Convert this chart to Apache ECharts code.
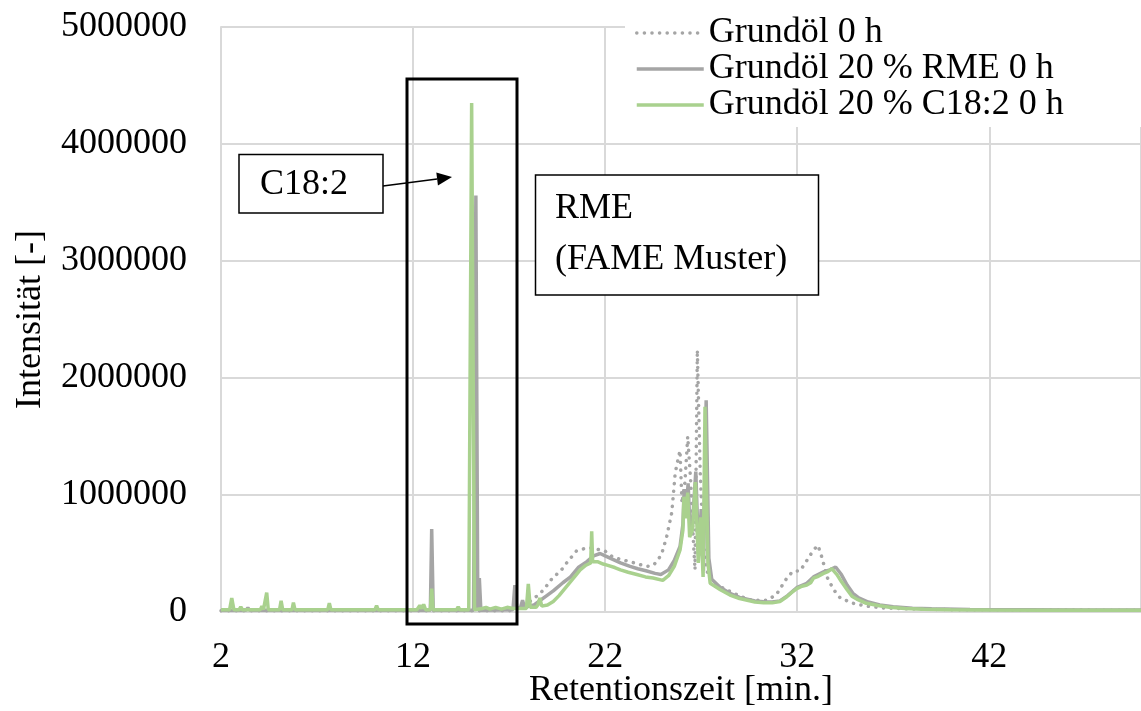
<!DOCTYPE html>
<html>
<head>
<meta charset="utf-8">
<script src="https://cdn.jsdelivr.net/npm/echarts@6/dist/echarts.min.js"></script>
<style>
html,body{margin:0;padding:0;background:#fff;}
#c{width:1141px;height:711px;}
</style>
</head>
<body>
<div id="c"></div>
<script>
// Retention time [min] / intensity [-]
const seriesNames = ['Grundöl 0 h', 'Grundöl 20 % RME 0 h', 'Grundöl 20 % C18:2 0 h'];

const grundoel0h = [
  [2.0,10000],[17.0,10000],[17.5,30000],[18.0,80000],[18.4,130000],[18.8,190000],[19.3,300000],
  [19.66,345000],[20.0,420000],[20.2,460000],[20.5,520000],[20.7,530000],[21.05,550000],[21.4,545000],
  [21.74,530000],[22.0,520000],[22.4,470000],[22.8,450000],[23.3,430000],[23.7,410000],[24.17,390000],
  [24.45,395000],[24.7,430000],[24.95,500000],[25.2,640000],[25.47,850000],[25.65,1190000],[25.75,1270000],
  [25.9,1380000],[26.0,930000],[26.15,1100000],[26.3,1500000],[26.45,1130000],[26.6,590000],[26.68,360000],
  [26.8,2240000],[26.95,1200000],[27.1,600000],[27.3,350000],[27.6,250000],[28.2,200000],[28.7,160000],
  [29.4,110000],[29.7,100000],[30.4,100000],[30.9,145000],[31.5,300000],[31.8,350000],[32.15,350000],
  [32.5,440000],[32.85,530000],[33.08,570000],[33.3,460000],[33.55,300000],[33.9,190000],[34.24,120000],
  [34.9,75000],[35.6,50000],[36.5,35000],[38,25000],[40,20000],[45,17000],[50,15000]
];

const grundoelRME = [
  [2.0,15000],[3.3,15000],[3.4,35000],[3.5,15000],[7.7,15000],[7.8,30000],[7.9,15000],[9.2,15000],
  [9.3,25000],[9.4,15000],[12.9,15000],[12.97,710000],[13.05,15000],[15.15,15000],[15.27,3560000],
  [15.37,15000],[15.45,290000],[15.53,15000],[17.2,20000],[17.3,230000],[17.4,30000],[17.6,40000],
  [17.7,100000],[17.8,40000],[18.3,60000],[18.8,120000],[19.3,180000],[19.8,250000],[20.2,300000],
  [20.6,380000],[21.05,430000],[21.4,480000],[21.74,500000],[22.0,480000],[22.4,450000],[22.8,420000],
  [23.3,390000],[23.7,370000],[24.17,350000],[24.6,330000],[24.9,320000],[25.3,360000],[25.6,440000],
  [25.9,560000],[26.05,750000],[26.12,1050000],[26.22,850000],[26.32,1100000],[26.42,700000],[26.55,760000],
  [26.72,1200000],[26.87,480000],[27.0,880000],[27.12,350000],[27.26,1810000],[27.4,460000],[27.55,280000],
  [28.0,210000],[28.5,160000],[29.0,125000],[29.4,110000],[29.8,95000],[30.25,88000],[30.7,85000],
  [31.1,95000],[31.5,140000],[32.0,210000],[32.5,245000],[32.85,300000],[33.4,345000],[33.7,360000],
  [34.0,385000],[34.3,320000],[34.6,230000],[34.9,160000],[35.2,120000],[35.7,85000],[36.3,60000],
  [37,45000],[38,33000],[39,27000],[41,22000],[44,20000],[47,18000],[50,18000]
];

const grundoelC182 = [
  [2.0,20000],[2.45,20000],[2.56,120000],[2.67,20000],[2.95,20000],[3.03,45000],[3.11,20000],
  [4.05,20000],[4.13,50000],[4.21,20000],[4.3,20000],[4.38,165000],[4.46,20000],[5.05,20000],
  [5.13,95000],[5.21,20000],[5.7,20000],[5.77,80000],[5.85,20000],[7.56,20000],[7.64,75000],
  [7.72,20000],[10.02,20000],[10.1,55000],[10.18,20000],[12.2,20000],[12.35,55000],[12.45,30000],
  [12.55,65000],[12.65,20000],[12.9,20000],[12.97,200000],[13.04,20000],[14.27,20000],[14.35,45000],
  [14.43,20000],[14.9,20000],[15.05,4350000],[15.2,20000],[15.6,30000],[15.8,40000],[16.0,25000],
  [16.3,40000],[16.6,25000],[16.9,40000],[17.2,30000],[17.9,30000],[18.0,240000],[18.1,40000],
  [18.4,40000],[18.5,60000],[18.6,120000],[18.7,50000],[19.0,60000],[19.3,90000],[19.6,140000],
  [19.9,200000],[20.2,260000],[20.5,320000],[20.7,360000],[21.0,400000],[21.25,420000],[21.3,690000],
  [21.35,430000],[21.6,430000],[21.9,410000],[22.1,400000],[22.5,380000],[22.8,360000],[23.2,340000],
  [23.65,320000],[24.1,300000],[24.5,290000],[25.0,270000],[25.3,310000],[25.6,390000],[25.9,530000],
  [26.05,700000],[26.1,985000],[26.2,800000],[26.3,1020000],[26.4,640000],[26.55,700000],[26.7,1110000],
  [26.85,420000],[26.98,810000],[27.1,300000],[27.2,1755000],[27.35,420000],[27.47,245000],[28.0,190000],
  [28.5,145000],[29.0,115000],[29.4,100000],[29.8,85000],[30.25,80000],[30.7,78000],[31.1,90000],
  [31.46,130000],[31.7,165000],[31.98,200000],[32.25,220000],[32.5,230000],[32.7,250000],[32.85,290000],
  [33.1,305000],[33.37,330000],[33.6,345000],[33.8,370000],[34.07,320000],[34.3,260000],[34.6,190000],
  [34.85,135000],[35.1,110000],[35.6,74000],[36.2,55000],[36.8,40000],[37.6,30000],[38.6,23000],
  [40,20000],[42,18000],[45,16000],[48,15000],[50,15000]
];

const xStart = 2;      // first x tick label
const xEnd = 49.9;     // right edge of plot
const xStep = 10;
const yMax = 5000000;
const yStep = 1000000;

const FONT = '"Liberation Serif", "Times New Roman", serif';
const shift = arr => arr.map(p => [p[0] - xStart, p[1]]);

const chart = echarts.init(document.getElementById('c'), null, {renderer: 'canvas'});

function arrowHead(x1, y1, x2, y2, len, half) {
  const dx = x2 - x1, dy = y2 - y1, L = Math.hypot(dx, dy);
  const ux = dx / L, uy = dy / L, nx = -uy, ny = ux;
  const bx = x2 - ux * len, by = y2 - uy * len;
  return {base: [bx, by], pts: [[x2, y2], [bx + nx * half, by + ny * half], [bx - nx * half, by - ny * half]]};
}
const ah = arrowHead(383, 186, 452, 177, 15, 6.5);

chart.setOption({
  animation: false,
  backgroundColor: '#fff',
  textStyle: {fontFamily: FONT},
  grid: {left: 221, right: 0, top: 27, bottom: 99, containLabel: false, outerBoundsMode: 'none'},
  legend: {
    data: seriesNames,
    orient: 'vertical',
    left: 625, top: 0,
    padding: [15, 80, 4, 10],
    backgroundColor: '#fff',
    itemWidth: 67, itemHeight: 14, itemGap: 0,
    itemStyle: {opacity: 0},
    lineStyle: {width: 3.5},
    textStyle: {fontFamily: FONT, fontSize: 36, color: '#000', lineHeight: 36},
    z: 10
  },
  xAxis: {
    type: 'value',
    min: 0, max: xEnd - xStart, interval: xStep,
    name: 'Retentionszeit [min.]',
    nameLocation: 'middle', nameGap: 61, nameMoveOverlap: false,
    nameTextStyle: {fontFamily: FONT, fontSize: 36, color: '#000'},
    axisLine: {show: true, lineStyle: {color: '#d9d9d9', width: 2}},
    axisTick: {show: false},
    axisLabel: {fontFamily: FONT, fontSize: 36, color: '#000', margin: 28,
      formatter: v => String(Math.round(v + xStart)), showMaxLabel: false},
    splitLine: {show: true, lineStyle: {color: '#d9d9d9', width: 2}}
  },
  yAxis: {
    type: 'value',
    min: 0, max: yMax, interval: yStep,
    name: 'Intensität [-]',
    nameLocation: 'middle', nameGap: 172, nameRotate: 90, nameMoveOverlap: false,
    nameTextStyle: {fontFamily: FONT, fontSize: 36, color: '#000'},
    axisLine: {show: true, lineStyle: {color: '#d9d9d9', width: 2}},
    axisTick: {show: false},
    axisLabel: {fontFamily: FONT, fontSize: 36, color: '#000', margin: 34,
      formatter: v => String(v)},
    splitLine: {show: true, lineStyle: {color: '#d9d9d9', width: 2}}
  },
  series: [
    {
      name: seriesNames[0], type: 'line', data: shift(grundoel0h),
      symbol: 'none', showSymbol: false, z: 2,
      lineStyle: {color: '#a5a5a5', width: 3.5, type: [0.1, 7.5], cap: 'round'},
      itemStyle: {color: '#a5a5a5'}
    },
    {
      name: seriesNames[1], type: 'line', data: shift(grundoelRME),
      symbol: 'none', showSymbol: false, z: 3,
      lineStyle: {color: '#a5a5a5', width: 3.5},
      itemStyle: {color: '#a5a5a5'}
    },
    {
      name: seriesNames[2], type: 'line', data: shift(grundoelC182),
      symbol: 'none', showSymbol: false, z: 4,
      lineStyle: {color: '#a9d18e', width: 3.5},
      itemStyle: {color: '#a9d18e'}
    }
  ],
  graphic: [
    {type: 'rect', z: 20, shape: {x: 407, y: 79, width: 110, height: 545},
      style: {fill: 'none', stroke: '#000', lineWidth: 3}},
    {type: 'rect', z: 20, shape: {x: 239, y: 154.5, width: 144, height: 58.5},
      style: {fill: '#fff', stroke: '#000', lineWidth: 1.5}},
    {type: 'text', z: 21, style: {x: 260, y: 185, text: 'C18:2', font: '36px ' + FONT,
      fill: '#000', verticalAlign: 'middle', align: 'left'}},
    {type: 'line', z: 20, shape: {x1: 383, y1: 186, x2: ah.base[0], y2: ah.base[1]},
      style: {stroke: '#000', lineWidth: 1.5}},
    {type: 'polygon', z: 20, shape: {points: ah.pts}, style: {fill: '#000'}},
    {type: 'rect', z: 20, shape: {x: 535.5, y: 175, width: 283, height: 120},
      style: {fill: '#fff', stroke: '#000', lineWidth: 1.5}},
    {type: 'text', z: 21, style: {x: 555, y: 209, text: 'RME', font: '36px ' + FONT,
      fill: '#000', verticalAlign: 'middle', align: 'left'}},
    {type: 'text', z: 21, style: {x: 555, y: 260, text: '(FAME Muster)', font: '36px ' + FONT,
      fill: '#000', verticalAlign: 'middle', align: 'left'}}
  ]
});
</script>
</body>
</html>
